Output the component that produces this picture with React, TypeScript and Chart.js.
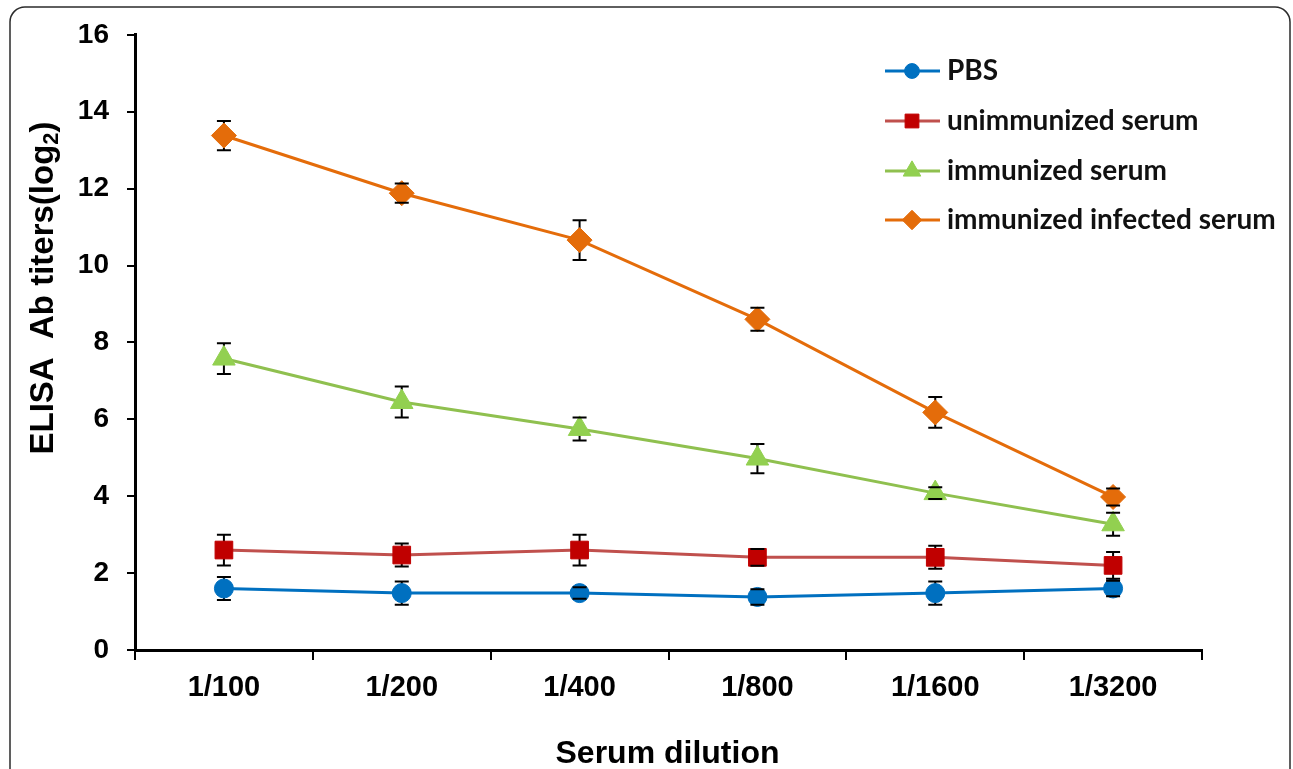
import { useEffect, useRef } from "react";
import { Chart, registerables } from "chart.js";

Chart.register(...registerables);

const categories = ["1/100", "1/200", "1/400", "1/800", "1/1600", "1/3200"];
const seriesNames = ["PBS", "unimmunized serum", "immunized serum", "immunized infected serum"];
const pbsValues = [1.6, 1.48, 1.48, 1.38, 1.48, 1.6];
const pbsErrors = [0.3, 0.3, 0.15, 0.2, 0.3, 0.2];
const unimmunizedValues = [2.6, 2.47, 2.6, 2.41, 2.41, 2.2];
const unimmunizedErrors = [0.4, 0.3, 0.4, 0.22, 0.3, 0.35];
const immunizedValues = [7.58, 6.45, 5.75, 4.98, 4.08, 3.27];
const immunizedErrors = [0.4, 0.4, 0.3, 0.38, 0.15, 0.3];
const infectedValues = [13.38, 11.88, 10.66, 8.6, 6.18, 3.98];
const infectedErrors = [0.38, 0.25, 0.52, 0.3, 0.4, 0.22];
const yTickValues = [0, 2, 4, 6, 8, 10, 12, 14, 16];
const xTitle = "Serum dilution";
const yTitleMain = "ELISA  Ab titers(log";
const yTitleSub = "2";
const yTitleEnd = ")";

const markerColors = ["#0070C0", "#C00000", "#92D050", "#E46C0A"];
const lineColors = ["#0070C0", "#C0504D", "#8FC04F", "#E46C0A"];
const pointStyles = ["circle", "rect", "triangle", "rectRot"];
const pointRadii = [9.5, 12.5, 13, 12.5];

const errorBarPlugin = {
  id: "errorBars",
  beforeDatasetsDraw(chart: any) {
    const ctx = chart.ctx;
    const ys = chart.scales.y;
    chart.data.datasets.forEach((ds: any, i: number) => {
      const meta = chart.getDatasetMeta(i);
      meta.data.forEach((pt: any, j: number) => {
        const v = ds.data[j];
        const e = ds.errorBars[j];
        const top = ys.getPixelForValue(v + e);
        const bot = ys.getPixelForValue(v - e);
        ctx.save();
        ctx.strokeStyle = "#000";
        ctx.lineWidth = 2;
        ctx.beginPath();
        ctx.moveTo(pt.x, top);
        ctx.lineTo(pt.x, bot);
        ctx.stroke();
        ctx.restore();
      });
    });
  },
  afterDatasetsDraw(chart: any) {
    const ctx = chart.ctx;
    const ys = chart.scales.y;
    chart.data.datasets.forEach((ds: any, i: number) => {
      const meta = chart.getDatasetMeta(i);
      meta.data.forEach((pt: any, j: number) => {
        const v = ds.data[j];
        const e = ds.errorBars[j];
        const top = ys.getPixelForValue(v + e);
        const bot = ys.getPixelForValue(v - e);
        ctx.save();
        ctx.strokeStyle = "#000";
        ctx.lineWidth = 2;
        ctx.beginPath();
        ctx.moveTo(pt.x - 7, top);
        ctx.lineTo(pt.x + 7, top);
        ctx.moveTo(pt.x - 7, bot);
        ctx.lineTo(pt.x + 7, bot);
        ctx.stroke();
        ctx.restore();
      });
    });
  },
};

function drawMarker(ctx: CanvasRenderingContext2D, style: string, r: number, x: number, y: number) {
  ctx.beginPath();
  if (style === "circle") {
    ctx.arc(x, y, r, 0, Math.PI * 2);
  } else if (style === "rect") {
    const s = r * Math.SQRT1_2;
    ctx.rect(x - s, y - s, 2 * s, 2 * s);
  } else if (style === "triangle") {
    ctx.moveTo(x, y - r);
    ctx.lineTo(x + r * 0.866, y + r * 0.5);
    ctx.lineTo(x - r * 0.866, y + r * 0.5);
    ctx.closePath();
  } else {
    ctx.moveTo(x - r, y);
    ctx.lineTo(x, y - r);
    ctx.lineTo(x + r, y);
    ctx.lineTo(x, y + r);
    ctx.closePath();
  }
  ctx.fill();
  ctx.stroke();
}

const decorPlugin = {
  id: "decor",
  beforeDraw(chart: any) {
    const ctx = chart.ctx;
    ctx.save();
    ctx.fillStyle = "#fff";
    ctx.fillRect(0, 0, chart.width, chart.height);
    ctx.strokeStyle = "#2b2b2b";
    ctx.lineWidth = 1.5;
    ctx.beginPath();
    ctx.roundRect(10, 7, 1280, 800, 15);
    ctx.stroke();
    ctx.restore();
  },
  afterDraw(chart: any) {
    const ctx = chart.ctx;
    ctx.save();
    ctx.fillStyle = "#000";
    // X title
    ctx.font = "bold 32px 'Liberation Sans', Arial, sans-serif";
    ctx.textAlign = "center";
    ctx.textBaseline = "alphabetic";
    const ca = chart.chartArea;
    ctx.fillText(xTitle, (ca.left + ca.right) / 2 - 1, 763);
    // Y title (rotated)
    ctx.translate(53, 288);
    ctx.rotate(-Math.PI / 2);
    ctx.textAlign = "left";
    const mainFont = "bold 33px 'Liberation Sans', Arial, sans-serif";
    const subFont = "bold 22px 'Liberation Sans', Arial, sans-serif";
    ctx.font = mainFont;
    const w1 = ctx.measureText(yTitleMain).width;
    const w3 = ctx.measureText(yTitleEnd).width;
    ctx.font = subFont;
    const w2 = ctx.measureText(yTitleSub).width;
    let u = -(w1 + w2 + w3) / 2;
    ctx.font = mainFont;
    ctx.fillText(yTitleMain, u, 0);
    u += w1;
    ctx.font = subFont;
    ctx.fillText(yTitleSub, u, 5);
    u += w2;
    ctx.font = mainFont;
    ctx.fillText(yTitleEnd, u, 0);
    ctx.restore();

    // Legend
    ctx.save();
    const rowYs = [71, 121, 171, 220];
    seriesNames.forEach((name, i) => {
      const y = rowYs[i];
      ctx.strokeStyle = lineColors[i];
      ctx.lineWidth = 3;
      ctx.beginPath();
      ctx.moveTo(885, y);
      ctx.lineTo(940, y);
      ctx.stroke();
      ctx.fillStyle = markerColors[i];
      ctx.strokeStyle = markerColors[i];
      ctx.lineWidth = 1;
      drawMarker(ctx, pointStyles[i], pointRadii[i] * 0.78, 912, y);
      ctx.fillStyle = "#111";
      ctx.font = "bold 28px Lato, 'Open Sans', sans-serif";
      ctx.textAlign = "left";
      ctx.textBaseline = "middle";
      ctx.fillText(name, 947, y);
    });
    ctx.restore();
  },
};

export default function App() {
  const ref = useRef<HTMLCanvasElement | null>(null);
  useEffect(() => {
    document.body.style.margin = "0";
    const canvas = ref.current;
    if (!canvas) return;
    const allValues = [pbsValues, unimmunizedValues, immunizedValues, infectedValues];
    const allErrors = [pbsErrors, unimmunizedErrors, immunizedErrors, infectedErrors];
    const chart = new Chart(canvas, {
      type: "line",
      data: {
        labels: categories,
        datasets: seriesNames.map((name, i) => ({
          label: name,
          data: allValues[i],
          errorBars: allErrors[i],
          borderColor: lineColors[i],
          backgroundColor: markerColors[i],
          pointBackgroundColor: markerColors[i],
          pointBorderColor: markerColors[i],
          pointBorderWidth: 1,
          pointStyle: pointStyles[i],
          pointRadius: pointRadii[i],
          borderWidth: 3,
          tension: 0,
          clip: false,
        })) as any,
      },
      options: {
        animation: false,
        responsive: false,
        events: [],
        layout: { padding: { left: 0, top: 34, right: 91, bottom: 0 } },
        plugins: {
          legend: { display: false },
          tooltip: { enabled: false },
          title: { display: false },
        },
        scales: {
          x: {
            type: "category",
            offset: true,
            afterFit(scale: any) {
              scale.height = 119;
            },
            grid: {
              offset: true,
              drawOnChartArea: false,
              color: "#000",
              lineWidth: 2,
              tickLength: 10,
            },
            border: { color: "#000", width: 3 },
            ticks: {
              color: "#000",
              padding: 11,
              maxRotation: 0,
              font: { family: "'Liberation Sans', Arial, sans-serif", size: 29, weight: "bold" },
            },
          },
          y: {
            min: 0,
            max: 16,
            afterFit(scale: any) {
              scale.width = 135;
            },
            afterBuildTicks(scale: any) {
              scale.ticks = yTickValues.map((v) => ({ value: v }));
            },
            grid: {
              drawOnChartArea: false,
              color: "#000",
              lineWidth: 2,
              tickLength: 8,
            },
            border: { color: "#000", width: 3 },
            ticks: {
              color: "#000",
              padding: 18,
              font: { family: "'Liberation Sans', Arial, sans-serif", size: 28, weight: "bold" },
            },
          },
        },
      } as any,
      plugins: [decorPlugin, errorBarPlugin],
    });
    return () => chart.destroy();
  }, []);
  return (
    <div style={{ width: 1293, height: 769 }}>
      <canvas ref={ref} width={1293} height={769} style={{ display: "block" }} />
    </div>
  );
}
